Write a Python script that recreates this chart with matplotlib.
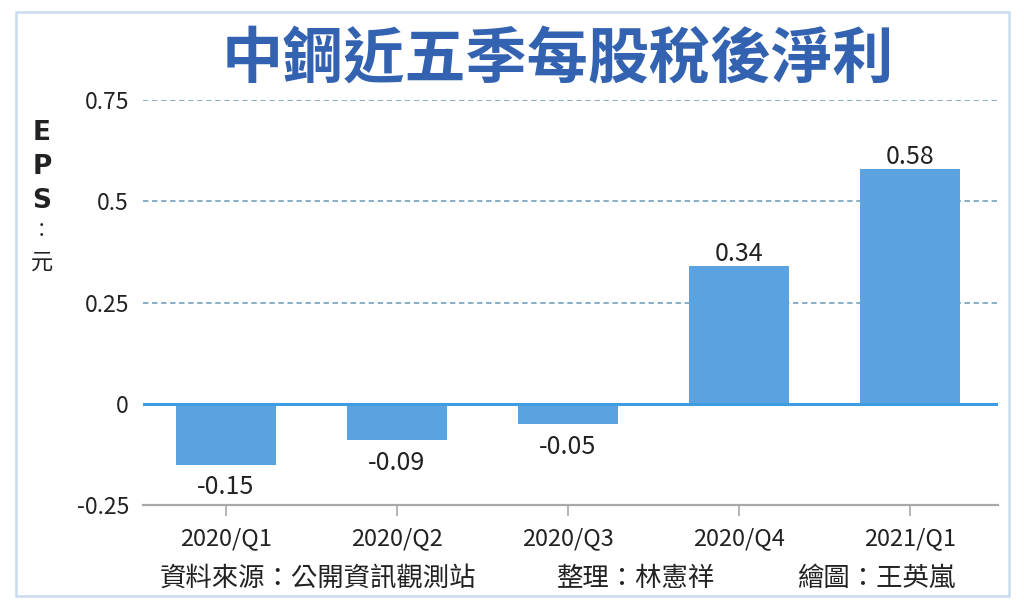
import matplotlib
matplotlib.use("Agg")
import matplotlib.pyplot as plt
from matplotlib.patches import Rectangle

plt.rcParams['font.family'] = ['Noto Sans CJK TC', 'DejaVu Sans']

# 資料
quarters = ['2020/Q1', '2020/Q2', '2020/Q3', '2020/Q4', '2021/Q1']
eps = [-0.15, -0.09, -0.05, 0.34, 0.58]
eps_labels = ['-0.15', '-0.09', '-0.05', '0.34', '0.58']
y_ticks = [-0.25, 0, 0.25, 0.5, 0.75]
y_tick_labels = ['-0.25', '0', '0.25', '0.5', '0.75']

bar_color = '#5ba3e0'
text_color = '#222222'

fig = plt.figure(figsize=(10.24, 6.09), dpi=100)

# 外框
fig.patches.append(Rectangle((16 / 1024, 1 - 596 / 609), 993 / 1024, 584 / 609,
                             transform=fig.transFigure, fill=False,
                             edgecolor='#c8dbef', linewidth=1.8))

ax = fig.add_axes([143 / 1024, 1 - 505 / 609, 855 / 1024, 405 / 609])
x = range(len(quarters))
ax.bar(x, eps, width=0.585, color=bar_color, zorder=2)

ax.set_xlim(-0.485, 4.515)
ax.set_ylim(-0.25, 0.75)

for s in ['top', 'right', 'left']:
    ax.spines[s].set_visible(False)
ax.spines['bottom'].set_color('#a8a8a8')
ax.spines['bottom'].set_linewidth(1.6)

# 格線
for v in [0.25, 0.5, 0.75]:
    ax.axhline(v, color='#7fa9c4', linestyle=(0, (3, 2)), linewidth=1.3, zorder=1)
ax.axhline(0, color='#3d9de0', linewidth=2.2, zorder=3)

ax.set_xticks(list(x))
ax.set_xticklabels(quarters, fontsize=17, color=text_color)
ax.set_yticks(y_ticks)
ax.set_yticklabels(y_tick_labels, fontsize=16.5, color=text_color)
ax.tick_params(axis='x', length=8, width=1.2, color='#a8a8a8', pad=8)
ax.tick_params(axis='y', length=0, pad=10)

# 數值標籤
for i, v in enumerate(eps):
    if v >= 0:
        ax.annotate(eps_labels[i], (i, v), xytext=(0, -1), textcoords='offset points',
                    ha='center', va='bottom', fontsize=18, color=text_color)
    else:
        ax.annotate(eps_labels[i], (i, v), xytext=(0, -7), textcoords='offset points',
                    ha='center', va='top', fontsize=18, color=text_color)

# 標題
fig.text(558 / 1024, 1 - 60 / 609, '中鋼近五季每股稅後淨利', ha='center', va='center',
         fontsize=44, fontweight='semibold', color='#3262b0')

# Y 軸單位
for ch, yy in zip(['E', 'P', 'S'], [133, 167, 201]):
    fig.text(42 / 1024, 1 - yy / 609, ch, ha='center', va='center',
             fontsize=19, fontweight='bold', color=text_color, family='DejaVu Sans')
fig.text(42 / 1024, 1 - 232 / 609, '：', ha='center', va='center',
         fontsize=14, color=text_color)
fig.text(42 / 1024, 1 - 262 / 609, '元', ha='center', va='center',
         fontsize=16, color=text_color)

# 資料來源
fig.text(160 / 1024, 1 - 578 / 609, '資料來源：公開資訊觀測站', ha='left', va='center',
         fontsize=19, color=text_color)
fig.text(557 / 1024, 1 - 578 / 609, '整理：林憲祥', ha='left', va='center',
         fontsize=19, color=text_color)
fig.text(797 / 1024, 1 - 578 / 609, '繪圖：王英嵐', ha='left', va='center',
         fontsize=19, color=text_color)

fig.savefig('out.png', dpi=100)
